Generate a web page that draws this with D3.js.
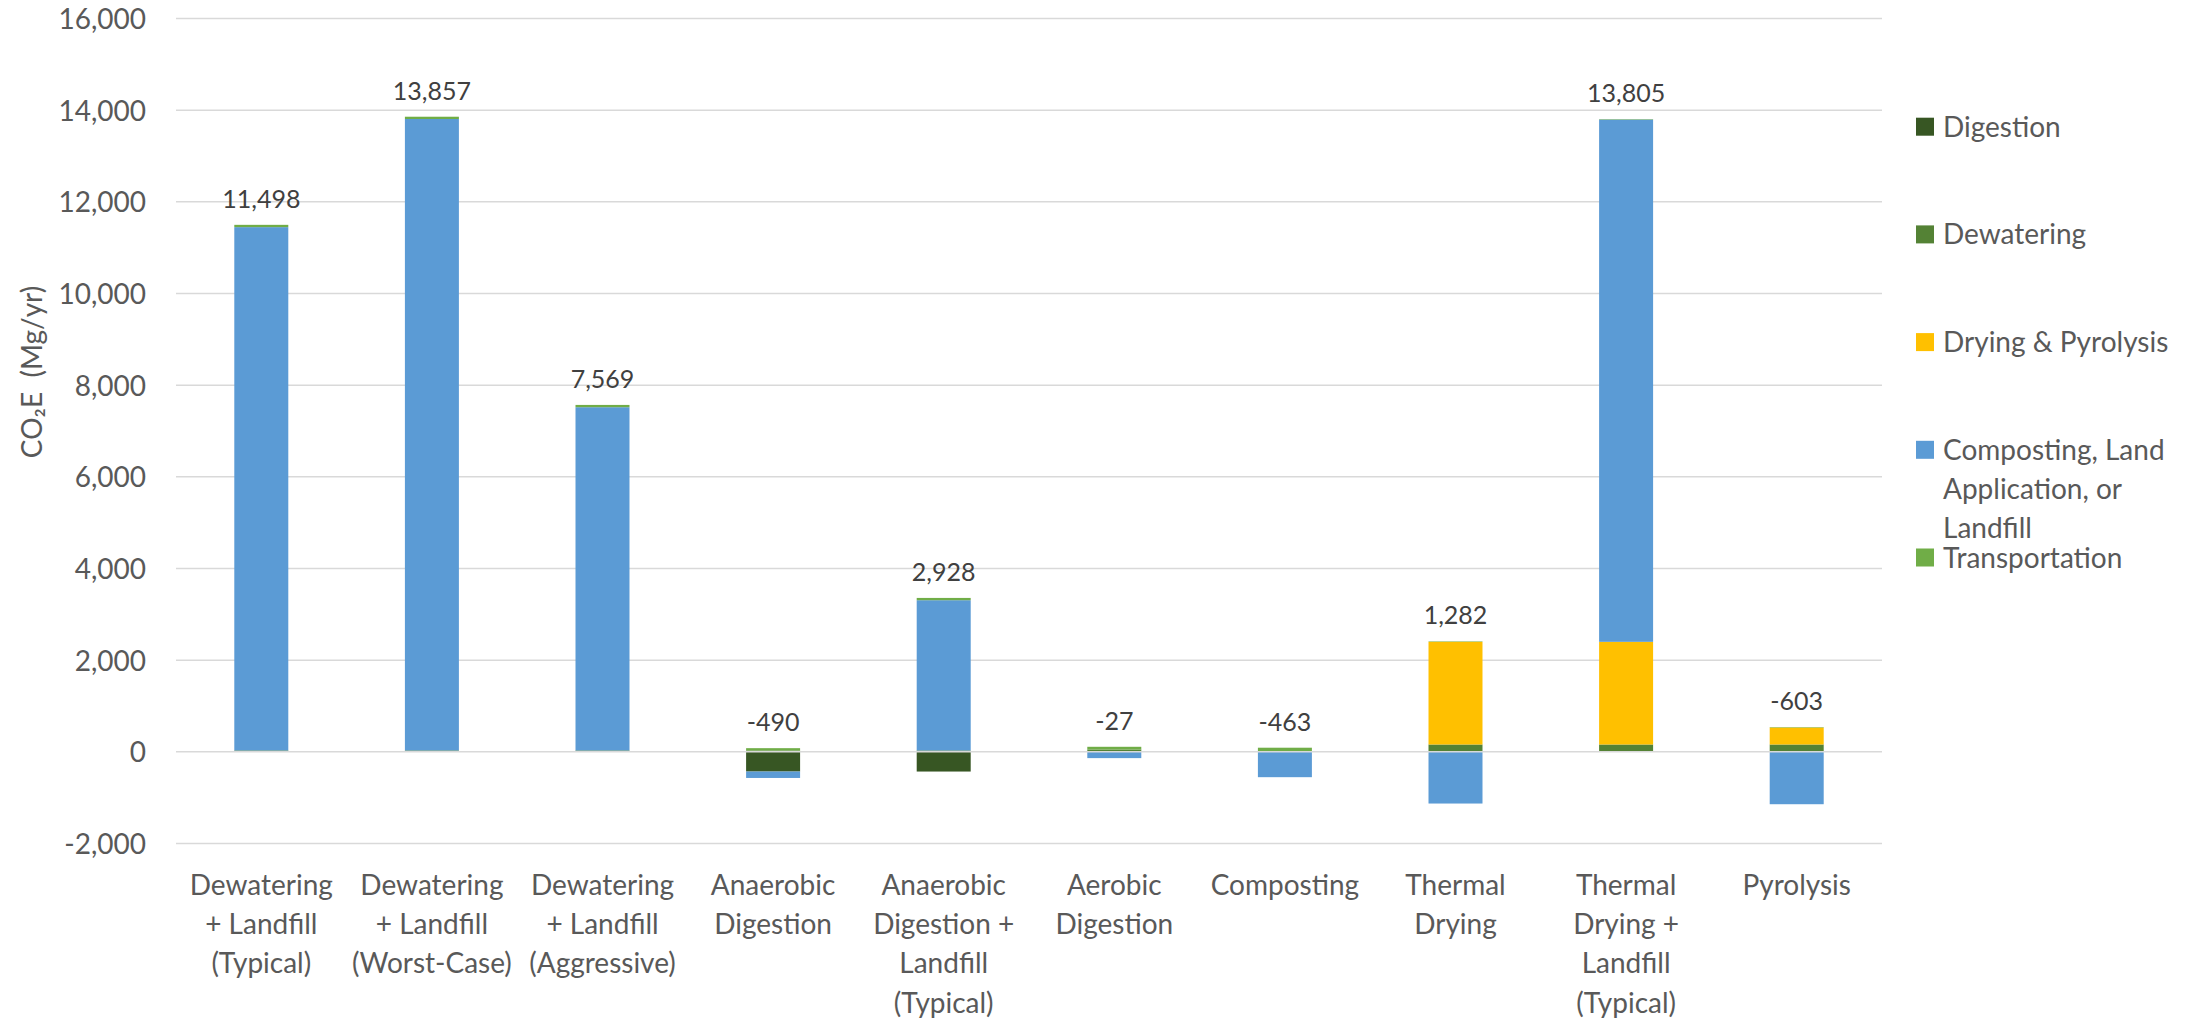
<!DOCTYPE html>
<html>
<head>
<meta charset="utf-8">
<script src="https://cdn.jsdelivr.net/npm/d3@7"></script>
<style>
  html, body { margin: 0; padding: 0; background: #ffffff; }
  svg { display: block; font-family: Lato, "Open Sans", sans-serif; }
</style>
</head>
<body>
<svg id="chart" width="2197" height="1018"></svg>
<script>
// Treatment scenarios (x-axis categories), one label line per array entry
const categories = [
  ["Dewatering", "+ Landfill", "(Typical)"],
  ["Dewatering", "+ Landfill", "(Worst-Case)"],
  ["Dewatering", "+ Landfill", "(Aggressive)"],
  ["Anaerobic", "Digestion"],
  ["Anaerobic", "Digestion +", "Landfill", "(Typical)"],
  ["Aerobic", "Digestion"],
  ["Composting"],
  ["Thermal", "Drying"],
  ["Thermal", "Drying +", "Landfill", "(Typical)"],
  ["Pyrolysis"]
];

// Emissions by process step, CO2E in Mg/yr
const digestion   = [0, 0, 0, -430, -430, 0, 0, 0, 0, 0];
const dewatering  = [30, 30, 30, 30, 30, 50, 0, 160, 160, 160];
const drying      = [0, 0, 0, 0, 0, 0, 0, 2240, 2240, 370];
const composting  = [11418, 13777, 7489, -140, 3278, -137, -553, -1128, 11395, -1143];
const transport   = [50, 50, 50, 50, 50, 60, 90, 10, 10, 10];

const seriesNames = ["Digestion", "Dewatering", "Drying & Pyrolysis",
                     "Composting, Land Application, or Landfill", "Transportation"];
const seriesLegendLines = [["Digestion"], ["Dewatering"], ["Drying & Pyrolysis"],
                           ["Composting, Land", "Application, or", "Landfill"], ["Transportation"]];
const seriesColors = ["#375623", "#548235", "#FFC000", "#5B9BD5", "#70AD47"];

const yTicks = [-2000, 0, 2000, 4000, 6000, 8000, 10000, 12000, 14000, 16000];
const yTitle = "CO\u2082E  (Mg/yr)";

// ---- layout ----
const plot = { left: 176, right: 1882, top: 18.5, bottom: 843.5 };
const svg = d3.select("#chart");

const fmt = d3.formatLocale({ decimal: ".", thousands: ",", grouping: [3], currency: ["", ""], minus: "-" }).format(",");

const seriesArrays = [digestion, dewatering, drying, composting, transport];
const rows = categories.map((c, i) => {
  const r = { idx: i };
  seriesNames.forEach((s, k) => { r[s] = seriesArrays[k][i]; });
  return r;
});

const x = d3.scaleBand()
  .domain(d3.range(categories.length))
  .range([plot.left, plot.right])
  .paddingInner(0.6835)
  .paddingOuter(0.34175);

const y = d3.scaleLinear()
  .domain([-2000, 16000])
  .range([plot.bottom, plot.top]);

// gridlines
svg.append("g")
  .selectAll("line")
  .data(yTicks.filter(t => t !== 0))
  .join("line")
  .attr("x1", plot.left).attr("x2", plot.right)
  .attr("y1", d => y(d)).attr("y2", d => y(d))
  .attr("stroke", "#d9d9d9").attr("stroke-width", 1.5);

// stacked bars (positives and negatives stack separately from zero)
const stack = d3.stack().keys(seriesNames).offset(d3.stackOffsetDiverging);
const layers = stack(rows);

svg.append("g")
  .selectAll("g")
  .data(layers)
  .join("g")
  .attr("fill", (d, i) => seriesColors[i])
  .selectAll("rect")
  .data(d => d)
  .join("rect")
  .attr("x", d => x(d.data.idx))
  .attr("width", x.bandwidth())
  .attr("y", d => y(Math.max(d[0], d[1])))
  .attr("height", d => Math.abs(y(d[0]) - y(d[1])));

// zero axis line drawn over the bars
svg.append("line")
  .attr("x1", plot.left).attr("x2", plot.right)
  .attr("y1", y(0)).attr("y2", y(0))
  .attr("stroke", "#d9d9d9").attr("stroke-width", 1.5);

// y axis labels
const yAxis = svg.append("g")
  .attr("transform", `translate(${plot.left},0)`)
  .call(d3.axisLeft(y).tickValues(yTicks).tickFormat(fmt).tickSize(0).tickPadding(30));
yAxis.select(".domain").remove();
yAxis.selectAll("text")
  .attr("dy", "0.36em")
  .attr("fill", "#595959")
  .style("font-family", "Lato, 'Open Sans', sans-serif")
  .style("font-size", "28px");

// y axis title
svg.append("text")
  .attr("transform", "translate(42,372) rotate(-90)")
  .attr("text-anchor", "middle")
  .attr("fill", "#595959")
  .style("font-size", "28px")
  .style("white-space", "pre")
  .text(yTitle);

// x axis category labels (multi-line)
const xAxis = svg.append("g")
  .attr("transform", `translate(0,${plot.bottom})`)
  .call(d3.axisBottom(x).tickSize(0).tickFormat(""));
xAxis.select(".domain").remove();
xAxis.selectAll(".tick text").remove();
xAxis.selectAll(".tick")
  .append("text")
  .attr("fill", "#595959")
  .attr("text-anchor", "middle")
  .style("font-family", "Lato, 'Open Sans', sans-serif")
  .style("font-size", "28px")
  .selectAll("tspan")
  .data(i => categories[i])
  .join("tspan")
  .attr("x", 0)
  .attr("y", (d, j) => 51.5 + j * 39.2)
  .text(d => d);

// total labels above the positive part of each stack
const totals = rows.map(r => {
  const vals = seriesNames.map(s => r[s]);
  return {
    idx: r.idx,
    total: d3.sum(vals),
    posTop: d3.sum(vals.filter(v => v > 0))
  };
});
svg.append("g")
  .selectAll("text")
  .data(totals)
  .join("text")
  .attr("x", d => x(d.idx) + x.bandwidth() / 2)
  .attr("y", d => y(d.posTop) - 17)
  .attr("text-anchor", "middle")
  .attr("fill", "#404040")
  .style("font-size", "25px")
  .text(d => fmt(d.total));

// legend
const legend = svg.append("g").attr("transform", "translate(1916,126.7)");
const item = legend.selectAll("g")
  .data(seriesNames)
  .join("g")
  .attr("transform", (d, i) => `translate(0,${i * 107.7})`);
item.append("rect")
  .attr("x", 0).attr("y", -9)
  .attr("width", 18).attr("height", 18)
  .attr("fill", (d, i) => seriesColors[i]);
item.append("text")
  .attr("fill", "#595959")
  .style("font-size", "28px")
  .selectAll("tspan")
  .data((d, i) => seriesLegendLines[i])
  .join("tspan")
  .attr("x", 27)
  .attr("y", (d, j) => 10 + j * 39)
  .text(d => d);
</script>
</body>
</html>
